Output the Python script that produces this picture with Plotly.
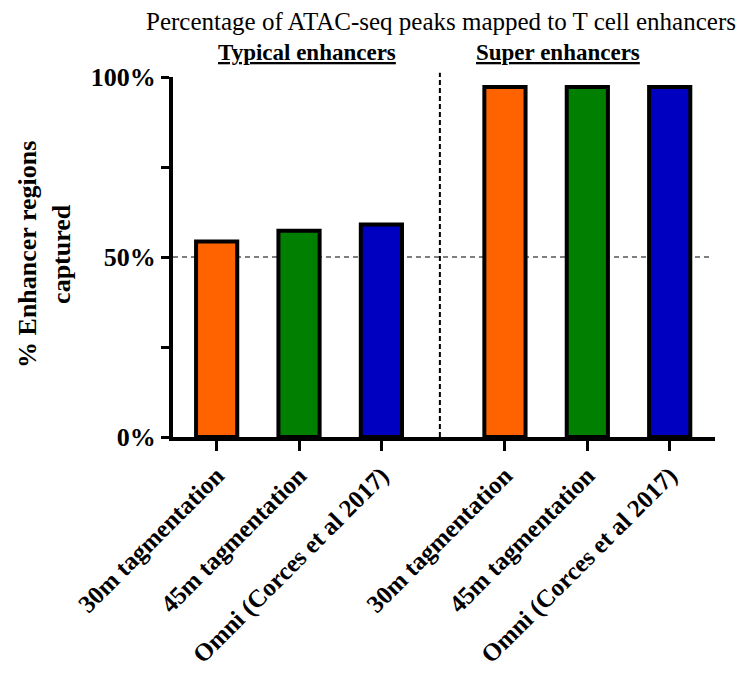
import plotly.graph_objects as go

# Data
groups = ["Typical enhancers", "Super enhancers"]
methods = ["30m tagmentation", "45m tagmentation", "Omni (Corces et al 2017)"]
typical_pct = [54.3, 57.3, 59.0]
super_pct = [97.2, 97.2, 97.2]
bar_colors = ["#FF6300", "#007F00", "#0000C0"]
y_ticks = [0, 25, 50, 75, 100]
y_tick_labels = ["0%", "", "50%", "", "100%"]

FONT = "Liberation Serif"
GROUP_GAP = 3.5  # distance between first bars of consecutive groups

x_pos, y_vals, colors, tick_text = [], [], [], []
for g, vals in enumerate([typical_pct, super_pct]):
    for i, v in enumerate(vals):
        x_pos.append(g * GROUP_GAP + i)
        y_vals.append(v)
        colors.append(bar_colors[i])
        tick_text.append(methods[i])

fig = go.Figure()
fig.add_trace(go.Bar(
    x=x_pos, y=y_vals, width=0.5,
    marker=dict(color=colors, line=dict(color="black", width=4)),
    hoverinfo="skip", showlegend=False,
))

# 50% reference line and group separator
fig.add_shape(type="line", xref="paper", yref="y", x0=0, x1=0.995, y0=50, y1=50,
              line=dict(color="#555555", width=1.5, dash="5px,4px"), layer="below")
sep_x = 2.71
fig.add_shape(type="line", xref="x", yref="paper", x0=sep_x, x1=sep_x, y0=0, y1=1.012,
              line=dict(color="black", width=2, dash="5px,3px"), layer="below")

annotations = [
    dict(text="Percentage of ATAC-seq peaks mapped to T cell enhancers",
         xref="paper", yref="paper", x=0.494, y=1.153, showarrow=False,
         xanchor="center", yanchor="middle", font=dict(family=FONT, size=25, color="black")),
    dict(text="<b><u>" + groups[0] + "</u></b>", xref="x", yref="paper", x=1.1, y=1.067,
         showarrow=False, xanchor="center", yanchor="middle",
         font=dict(family=FONT, size=23, color="black")),
    dict(text="<b><u>" + groups[1] + "</u></b>", xref="x", yref="paper", x=4.14, y=1.067,
         showarrow=False, xanchor="center", yanchor="middle",
         font=dict(family=FONT, size=23, color="black")),
    dict(text="<b>% Enhancer regions<br>captured</b>", xref="paper", yref="paper",
         x=-0.236, y=0.506, showarrow=False, textangle=-90,
         xanchor="center", yanchor="middle",
         font=dict(family=FONT, size=26, color="black")),
]

fig.update_layout(
    width=744, height=673,
    margin=dict(l=173, r=29, t=77, b=236, autoexpand=False),
    paper_bgcolor="white", plot_bgcolor="white",
    annotations=annotations,
    font=dict(family=FONT, color="black"),
    xaxis=dict(
        range=[-0.53, 6.05], tickmode="array", tickvals=x_pos,
        ticktext=["<b>" + t + "</b>" for t in tick_text],
        tickangle=-45, tickfont=dict(family=FONT, size=25, color="black"),
        ticks="outside", ticklen=10, tickwidth=3, tickcolor="black",
        showline=True, linecolor="black", linewidth=4, automargin=False,
        showgrid=False, zeroline=False, fixedrange=True,
    ),
    yaxis=dict(
        range=[0, 100], tickmode="array", tickvals=y_ticks,
        ticktext=["<b>" + t + "</b>" for t in y_tick_labels],
        tickfont=dict(family=FONT, size=26, color="black"),
        ticks="outside", ticklen=8, tickwidth=3, tickcolor="black",
        showline=True, linecolor="black", linewidth=4, automargin=False,
        showgrid=False, zeroline=False, fixedrange=True,
    ),
)

fig.write_html("out.html")
